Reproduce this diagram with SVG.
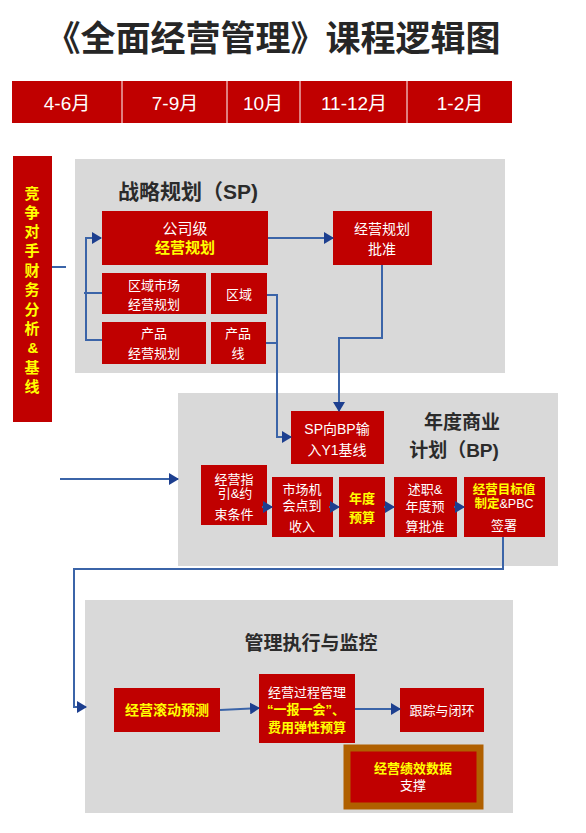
<svg xmlns="http://www.w3.org/2000/svg" width="586" height="833" viewBox="0 0 586 833">
<defs>
<marker id="ah" markerUnits="userSpaceOnUse" markerWidth="10" markerHeight="12" refX="9" refY="6" orient="auto">
<path d="M0,0 L10,6 L0,12 Z" fill="#1d3f8f"/>
</marker>
<style>
text{font-family:"Liberation Sans","Noto Sans CJK SC",sans-serif;text-anchor:middle}
.red{fill:#c00000}
.panel{fill:#d9d9d9}
.w{fill:#ffffff;font-size:13px}
.y{fill:#ffff00;font-weight:bold}
.h{fill:#2b2b2b;font-weight:bold}
.con{fill:none;stroke:#3b64a8;stroke-width:2}
</style>
</defs>
<rect width="586" height="833" fill="#ffffff"/>
<text x="273" y="51" class="h" style="font-size:35px;fill:#262626">《全面经营管理》课程逻辑图</text>

<g id="timeline">
<rect x="12" y="81" width="500" height="42" class="red"/>
<g stroke="#ffffff" stroke-width="1">
<line x1="122" y1="81" x2="122" y2="123"/>
<line x1="227" y1="81" x2="227" y2="123"/>
<line x1="300" y1="81" x2="300" y2="123"/>
<line x1="407" y1="81" x2="407" y2="123"/>
</g>
<g style="fill:#fff;font-size:19px">
<text x="67" y="110">4-6月</text>
<text x="175" y="110">7-9月</text>
<text x="263" y="110">10月</text>
<text x="354" y="110">11-12月</text>
<text x="460" y="110">1-2月</text>
</g>
</g>

<g id="competitor">
<rect x="13" y="156" width="39" height="266" class="red"/>
<g class="y" style="font-size:15px">
<text x="32" y="199">竞</text>
<text x="32" y="218">争</text>
<text x="32" y="237">对</text>
<text x="32" y="256">手</text>
<text x="32" y="276">财</text>
<text x="32" y="295">务</text>
<text x="32" y="315">分</text>
<text x="32" y="334">析</text>
<text x="33" y="353">&amp;</text>
<text x="32" y="373">基</text>
<text x="32" y="392">线</text>
</g>
</g>

<g id="sp-panel">
<rect x="75" y="159" width="430" height="214" class="panel"/>
<text x="188" y="199" class="h" style="font-size:21px">战略规划（SP)</text>
</g>
<g id="bp-panel">
<rect x="178" y="393" width="380" height="173" class="panel"/>
<text x="462" y="429" class="h" style="font-size:19px">年度商业</text>
<text x="454" y="457" class="h" style="font-size:19px">计划（BP)</text>
</g>
<g id="mgmt-panel">
<rect x="85" y="600" width="428" height="213" class="panel"/>
<text x="311" y="650" class="h" style="font-size:19px">管理执行与监控</text>
</g>

<g id="n-company">
<rect x="102" y="211" width="166" height="54" class="red"/>
<text x="185" y="234" class="w" style="font-size:15px">公司级</text>
<text x="185" y="253" class="y" style="font-size:15px">经营规划</text>
</g>
<g id="n-region-market">
<rect x="102" y="273" width="104" height="41" class="red"/>
<text x="154" y="290" class="w">区域市场</text>
<text x="154" y="309" class="w">经营规划</text>
</g>
<g id="n-region">
<rect x="211" y="273" width="56" height="41" class="red"/>
<text x="239" y="299" class="w">区域</text>
</g>
<g id="n-product">
<rect x="102" y="322" width="104" height="42" class="red"/>
<text x="154" y="338" class="w">产品</text>
<text x="154" y="358" class="w">经营规划</text>
</g>
<g id="n-productline">
<rect x="211" y="322" width="55" height="42" class="red"/>
<text x="238" y="338" class="w">产品</text>
<text x="238" y="358" class="w">线</text>
</g>
<g id="n-approve">
<rect x="333" y="211" width="99" height="54" class="red"/>
<text x="382" y="234" class="w" style="font-size:14px">经营规划</text>
<text x="382" y="254" class="w" style="font-size:14px">批准</text>
</g>

<g id="n-sp2bp">
<rect x="291" y="411" width="93" height="53" class="red"/>
<text x="337" y="434" class="w" style="font-size:14px">SP向BP输</text>
<text x="337" y="455" class="w" style="font-size:14px">入Y1基线</text>
</g>
<g id="n-guide">
<rect x="201" y="465" width="66" height="60" class="red"/>
<text x="234" y="484" class="w">经营指</text>
<text x="235" y="498" class="w">引&amp;约</text>
<text x="234" y="519" class="w">束条件</text>
</g>
<g id="n-market">
<rect x="272" y="477" width="61" height="60" class="red"/>
<text x="302" y="494" class="w">市场机</text>
<text x="302" y="510" class="w">会点到</text>
<text x="302" y="531" class="w">收入</text>
</g>
<g id="n-budget">
<rect x="339" y="477" width="46" height="60" class="red"/>
<text x="362" y="503" class="y" style="font-size:13px">年度</text>
<text x="362" y="522" class="y" style="font-size:13px">预算</text>
</g>
<g id="n-report">
<rect x="394" y="477" width="63" height="60" class="red"/>
<text x="425" y="494" class="w">述职&amp;</text>
<text x="425" y="511" class="w">年度预</text>
<text x="425" y="531" class="w">算批准</text>
</g>
<g id="n-target">
<rect x="464" y="477" width="81" height="60" class="red"/>
<text x="504" y="494" class="y" style="font-size:12.5px">经营目标值</text>
<text x="504" y="508" style="font-size:12.5px"><tspan class="y">制定</tspan><tspan fill="#ffffff">&amp;PBC</tspan></text>
<text x="504" y="530" class="w">签署</text>
</g>

<g id="n-forecast">
<rect x="114" y="688" width="106" height="44" class="red"/>
<text x="167" y="715" class="y" style="font-size:14px">经营滚动预测</text>
</g>
<g id="n-process">
<rect x="259" y="674" width="96" height="69" class="red"/>
<text x="307" y="697" class="w">经营过程管理</text>
<text x="306" y="714" class="y" style="font-size:13px">“一报一会”、</text>
<text x="307" y="732" class="y" style="font-size:13px">费用弹性预算</text>
</g>
<g id="n-track">
<rect x="400" y="688" width="84" height="44" class="red"/>
<text x="442" y="715" class="w">跟踪与闭环</text>
</g>
<g id="n-data">
<rect x="347" y="748" width="133" height="58" class="red" stroke="#b06000" stroke-width="7"/>
<text x="413" y="773" class="y" style="font-size:13px">经营绩效数据</text>
<text x="413" y="790" class="w">支撑</text>
</g>

<g id="connectors">
<path class="con" d="M268,238 H333" marker-end="url(#ah)"/>
<path class="con" d="M102,340 H86 V238 H101" marker-end="url(#ah)"/>
<path class="con" d="M84,293 H102" stroke-width="1.5"/>
<path class="con" d="M267,295 H277 V437 H291" marker-end="url(#ah)"/>
<path class="con" d="M266,343 H277"/>
<path class="con" d="M382,265 V338 H339 V411" marker-end="url(#ah)"/>
<path class="con" d="M52,267 H66" stroke="#1d3f8f" stroke-width="2.5"/>
<path class="con" d="M60,479 H178" marker-end="url(#ah)"/>
<path class="con" d="M262,507 H272" marker-end="url(#ah)"/>
<path class="con" d="M329,507 H339" marker-end="url(#ah)"/>
<path class="con" d="M384,507 H394" marker-end="url(#ah)"/>
<path class="con" d="M454,507 H464" marker-end="url(#ah)"/>
<path class="con" d="M503,537 V569 H74 V707 H86" marker-end="url(#ah)"/>
<path class="con" d="M220,710 L259,708" marker-end="url(#ah)" stroke="#2f4f9a"/>
<path class="con" d="M355,709 H400" marker-end="url(#ah)" stroke="#2f4f9a"/>
</g>
</svg>
